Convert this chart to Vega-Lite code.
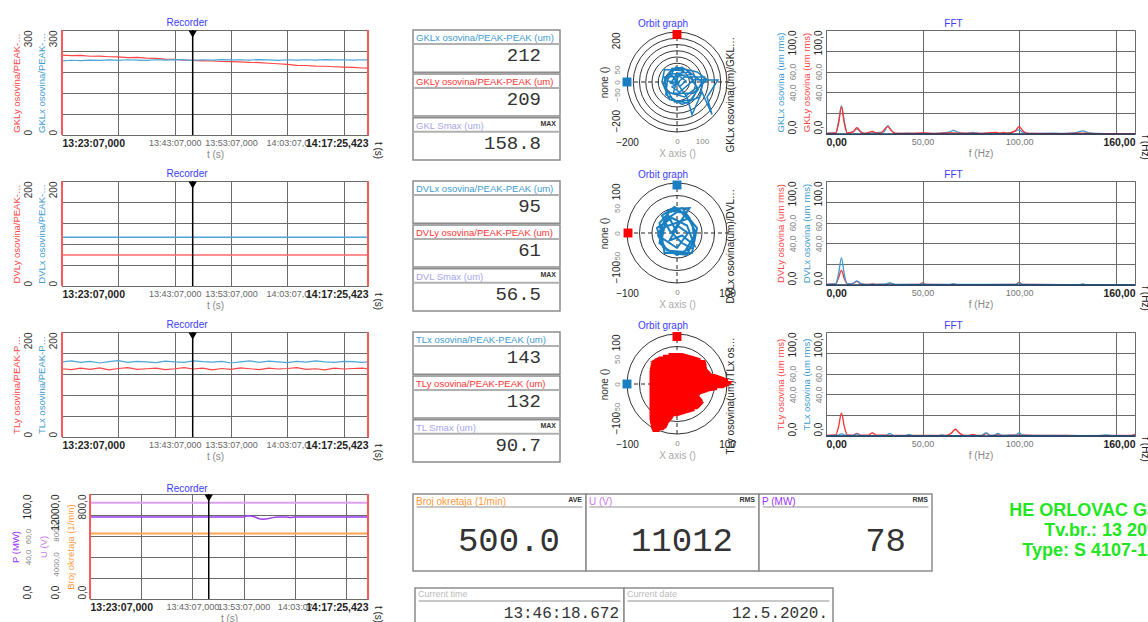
{
"$schema":"https://vega.github.io/schema/vega-lite/v6.json",
"background":"white",
"padding":{"left":9,"top":17,"right":0,"bottom":0},
"spacing":20,
"config":{
"font":"Liberation Sans",
"view":{"stroke":"#a0a0a0","strokeWidth":1},
"axis":{"domain":false,"ticks":false,"grid":false,"labelFontSize":10,"titleFontSize":10,"titleFontWeight":"normal","labelColor":"#333","titleColor":"#888","gridColor":"#6a6a6a","gridOpacity":1,"labelOverlap":false},
"title":{"color":"#3c3cff","fontSize":10,"fontWeight":"normal","offset":1,"frame":"group","anchor":"middle"},
"concat":{"spacing":0}
},
"datasets":{
"rec1":[
{"t":0,"v":212,"s":"x"},{"t":100,"v":213.5,"s":"x"},{"t":200,"v":212.5,"s":"x"},{"t":300,"v":214,"s":"x"},{"t":400,"v":213,"s":"x"},{"t":500,"v":214.5,"s":"x"},{"t":600,"v":213.5,"s":"x"},{"t":700,"v":215,"s":"x"},{"t":800,"v":214,"s":"x"},{"t":900,"v":213.5,"s":"x"},{"t":1000,"v":215,"s":"x"},{"t":1100,"v":214,"s":"x"},{"t":1200,"v":215.5,"s":"x"},{"t":1300,"v":214.5,"s":"x"},{"t":1400,"v":213.5,"s":"x"},{"t":1500,"v":215,"s":"x"},{"t":1600,"v":214,"s":"x"},{"t":1700,"v":215.5,"s":"x"},{"t":1800,"v":214.5,"s":"x"},{"t":1900,"v":215,"s":"x"},{"t":2000,"v":214,"s":"x"},{"t":2100,"v":215.5,"s":"x"},{"t":2200,"v":214.5,"s":"x"},{"t":2300,"v":213.5,"s":"x"},{"t":2400,"v":215,"s":"x"},{"t":2500,"v":214,"s":"x"},{"t":2600,"v":215,"s":"x"},{"t":2700,"v":214,"s":"x"},{"t":2800,"v":215.5,"s":"x"},{"t":2900,"v":214.5,"s":"x"},{"t":3000,"v":215,"s":"x"},{"t":3100,"v":214,"s":"x"},{"t":3200,"v":215,"s":"x"},{"t":3258.423,"v":214.5,"s":"x"},
{"t":0,"v":228,"s":"y"},{"t":100,"v":227,"s":"y"},{"t":200,"v":227.5,"s":"y"},{"t":300,"v":225,"s":"y"},{"t":400,"v":225.5,"s":"y"},{"t":500,"v":223.5,"s":"y"},{"t":600,"v":223,"s":"y"},{"t":700,"v":221,"s":"y"},{"t":800,"v":221.5,"s":"y"},{"t":900,"v":219.5,"s":"y"},{"t":1000,"v":219,"s":"y"},{"t":1100,"v":217,"s":"y"},{"t":1200,"v":216.5,"s":"y"},{"t":1300,"v":214,"s":"y"},{"t":1400,"v":213,"s":"y"},{"t":1500,"v":212,"s":"y"},{"t":1600,"v":211.5,"s":"y"},{"t":1700,"v":210,"s":"y"},{"t":1800,"v":209.5,"s":"y"},{"t":1900,"v":209,"s":"y"},{"t":2000,"v":207.5,"s":"y"},{"t":2100,"v":207,"s":"y"},{"t":2200,"v":205,"s":"y"},{"t":2300,"v":203.5,"s":"y"},{"t":2400,"v":202,"s":"y"},{"t":2500,"v":199,"s":"y"},{"t":2600,"v":198.5,"s":"y"},{"t":2700,"v":197,"s":"y"},{"t":2800,"v":196.5,"s":"y"},{"t":2900,"v":195,"s":"y"},{"t":3000,"v":194,"s":"y"},{"t":3100,"v":193,"s":"y"},{"t":3200,"v":191.5,"s":"y"},{"t":3258.423,"v":191,"s":"y"}
],
"rec2":[
{"t":0,"v":93,"s":"x"},{"t":1600,"v":93,"s":"x"},{"t":3258.423,"v":93,"s":"x"},
{"t":0,"v":59,"s":"y"},{"t":1600,"v":59,"s":"y"},{"t":3258.423,"v":59,"s":"y"}
],
"rec3":[
{"t":0,"v":143,"s":"x"},{"t":100,"v":145,"s":"x"},{"t":200,"v":142,"s":"x"},{"t":300,"v":144,"s":"x"},{"t":400,"v":141,"s":"x"},{"t":500,"v":143.5,"s":"x"},{"t":600,"v":145.5,"s":"x"},{"t":700,"v":142,"s":"x"},{"t":800,"v":144,"s":"x"},{"t":900,"v":143,"s":"x"},{"t":1000,"v":141.5,"s":"x"},{"t":1100,"v":144.5,"s":"x"},{"t":1200,"v":143,"s":"x"},{"t":1300,"v":142,"s":"x"},{"t":1400,"v":145,"s":"x"},{"t":1500,"v":143.5,"s":"x"},{"t":1600,"v":142.5,"s":"x"},{"t":1700,"v":144,"s":"x"},{"t":1800,"v":141,"s":"x"},{"t":1900,"v":143,"s":"x"},{"t":2000,"v":145,"s":"x"},{"t":2100,"v":142,"s":"x"},{"t":2200,"v":144.5,"s":"x"},{"t":2300,"v":143,"s":"x"},{"t":2400,"v":141.5,"s":"x"},{"t":2500,"v":144,"s":"x"},{"t":2600,"v":142.5,"s":"x"},{"t":2700,"v":145,"s":"x"},{"t":2800,"v":143,"s":"x"},{"t":2900,"v":142,"s":"x"},{"t":3000,"v":144,"s":"x"},{"t":3100,"v":143.5,"s":"x"},{"t":3200,"v":142,"s":"x"},{"t":3258.423,"v":143,"s":"x"},
{"t":0,"v":130,"s":"y"},{"t":100,"v":128.5,"s":"y"},{"t":200,"v":131,"s":"y"},{"t":300,"v":129,"s":"y"},{"t":400,"v":131.5,"s":"y"},{"t":500,"v":128,"s":"y"},{"t":600,"v":130.5,"s":"y"},{"t":700,"v":132,"s":"y"},{"t":800,"v":129,"s":"y"},{"t":900,"v":130,"s":"y"},{"t":1000,"v":131,"s":"y"},{"t":1100,"v":128.5,"s":"y"},{"t":1200,"v":130,"s":"y"},{"t":1300,"v":132,"s":"y"},{"t":1400,"v":129.5,"s":"y"},{"t":1500,"v":131,"s":"y"},{"t":1600,"v":128,"s":"y"},{"t":1700,"v":130.5,"s":"y"},{"t":1800,"v":129,"s":"y"},{"t":1900,"v":131.5,"s":"y"},{"t":2000,"v":130,"s":"y"},{"t":2100,"v":128.5,"s":"y"},{"t":2200,"v":131,"s":"y"},{"t":2300,"v":129.5,"s":"y"},{"t":2400,"v":130.5,"s":"y"},{"t":2500,"v":132,"s":"y"},{"t":2600,"v":129,"s":"y"},{"t":2700,"v":130,"s":"y"},{"t":2800,"v":128,"s":"y"},{"t":2900,"v":131,"s":"y"},{"t":3000,"v":129.5,"s":"y"},{"t":3100,"v":130.5,"s":"y"},{"t":3200,"v":131,"s":"y"},{"t":3258.423,"v":129.5,"s":"y"}
],
"rec4":[
{"t":0,"v":500,"s":"broj"},{"t":3258.423,"v":500,"s":"broj"},
{"t":0,"v":11012,"s":"u"},{"t":3258.423,"v":11012,"s":"u"},
{"t":0,"v":78,"s":"p"},{"t":1800,"v":78,"s":"p"},{"t":1830,"v":79,"s":"p"},{"t":1870,"v":79.2,"s":"p"},{"t":1920,"v":78.5,"s":"p"},{"t":1980,"v":76.5,"s":"p"},{"t":2030,"v":76,"s":"p"},{"t":2080,"v":76.5,"s":"p"},{"t":2140,"v":77.5,"s":"p"},{"t":2190,"v":78,"s":"p"},{"t":2300,"v":78,"s":"p"},{"t":2350,"v":77.6,"s":"p"},{"t":2400,"v":78,"s":"p"},{"t":3258.423,"v":78,"s":"p"}
],
"fft1":[
{"f":0,"v":0.5,"s":"x"},{"f":5,"v":1,"s":"x"},{"f":6.5,"v":12,"s":"x"},{"f":8,"v":27,"s":"x"},{"f":9.5,"v":12,"s":"x"},{"f":11,"v":1,"s":"x"},{"f":14,"v":2,"s":"x"},{"f":16,"v":5,"s":"x"},{"f":18,"v":2,"s":"x"},{"f":20,"v":0.5,"s":"x"},{"f":24,"v":1,"s":"x"},{"f":30,"v":2,"s":"x"},{"f":32,"v":8,"s":"x"},{"f":34,"v":3,"s":"x"},{"f":36,"v":0.5,"s":"x"},{"f":42,"v":0.8,"s":"x"},{"f":50,"v":0.5,"s":"x"},{"f":60,"v":0.8,"s":"x"},{"f":64,"v":2,"s":"x"},{"f":66,"v":3.5,"s":"x"},{"f":68,"v":2,"s":"x"},{"f":72,"v":0.5,"s":"x"},{"f":76,"v":1.5,"s":"x"},{"f":80,"v":0.5,"s":"x"},{"f":86,"v":1,"s":"x"},{"f":90,"v":0.5,"s":"x"},{"f":96,"v":1.5,"s":"x"},{"f":100,"v":4,"s":"x"},{"f":102,"v":1.5,"s":"x"},{"f":106,"v":0.5,"s":"x"},{"f":118,"v":0.8,"s":"x"},{"f":124,"v":0.5,"s":"x"},{"f":130,"v":1.5,"s":"x"},{"f":133,"v":3,"s":"x"},{"f":136,"v":1,"s":"x"},{"f":140,"v":0.5,"s":"x"},{"f":150,"v":0.3,"s":"x"},{"f":160,"v":0.3,"s":"x"},
{"f":0,"v":0.5,"s":"y"},{"f":5,"v":1,"s":"y"},{"f":6.5,"v":10,"s":"y"},{"f":8,"v":26,"s":"y"},{"f":9.5,"v":10,"s":"y"},{"f":11,"v":1,"s":"y"},{"f":14,"v":2,"s":"y"},{"f":16,"v":6,"s":"y"},{"f":18,"v":2,"s":"y"},{"f":20,"v":0.5,"s":"y"},{"f":22,"v":1.5,"s":"y"},{"f":24,"v":2.5,"s":"y"},{"f":26,"v":1,"s":"y"},{"f":28,"v":0.5,"s":"y"},{"f":32,"v":7,"s":"y"},{"f":34,"v":3,"s":"y"},{"f":36,"v":0.5,"s":"y"},{"f":44,"v":0.5,"s":"y"},{"f":50,"v":1,"s":"y"},{"f":56,"v":0.4,"s":"y"},{"f":64,"v":1,"s":"y"},{"f":80,"v":0.5,"s":"y"},{"f":88,"v":1.5,"s":"y"},{"f":90,"v":0.8,"s":"y"},{"f":92,"v":1.5,"s":"y"},{"f":94,"v":0.5,"s":"y"},{"f":98,"v":3,"s":"y"},{"f":100,"v":7,"s":"y"},{"f":102,"v":3,"s":"y"},{"f":104,"v":0.5,"s":"y"},{"f":120,"v":0.4,"s":"y"},{"f":133,"v":0.8,"s":"y"},{"f":140,"v":0.3,"s":"y"},{"f":160,"v":0.3,"s":"y"}
],
"fft2":[
{"f":0,"v":0.5,"s":"x"},{"f":5,"v":1,"s":"x"},{"f":6.5,"v":11,"s":"x"},{"f":8,"v":26,"s":"x"},{"f":9.5,"v":10,"s":"x"},{"f":11,"v":1,"s":"x"},{"f":14,"v":1.5,"s":"x"},{"f":16,"v":4,"s":"x"},{"f":18,"v":1.5,"s":"x"},{"f":20,"v":0.5,"s":"x"},{"f":30,"v":0.8,"s":"x"},{"f":33,"v":2,"s":"x"},{"f":36,"v":0.5,"s":"x"},{"f":48,"v":0.5,"s":"x"},{"f":50,"v":1.2,"s":"x"},{"f":52,"v":0.5,"s":"x"},{"f":64,"v":0.5,"s":"x"},{"f":66,"v":1,"s":"x"},{"f":68,"v":0.5,"s":"x"},{"f":98,"v":0.5,"s":"x"},{"f":100,"v":2,"s":"x"},{"f":102,"v":0.5,"s":"x"},{"f":131,"v":0.4,"s":"x"},{"f":133,"v":1,"s":"x"},{"f":135,"v":0.4,"s":"x"},{"f":160,"v":0.3,"s":"x"},
{"f":0,"v":0.5,"s":"y"},{"f":5,"v":1,"s":"y"},{"f":6.5,"v":7,"s":"y"},{"f":8,"v":14,"s":"y"},{"f":9.5,"v":6,"s":"y"},{"f":11,"v":1,"s":"y"},{"f":14,"v":1.5,"s":"y"},{"f":16,"v":3.5,"s":"y"},{"f":18,"v":1,"s":"y"},{"f":20,"v":0.5,"s":"y"},{"f":22,"v":0.5,"s":"y"},{"f":24,"v":1,"s":"y"},{"f":26,"v":0.5,"s":"y"},{"f":31,"v":0.5,"s":"y"},{"f":33,"v":1.5,"s":"y"},{"f":36,"v":0.3,"s":"y"},{"f":48,"v":0.5,"s":"y"},{"f":50,"v":2,"s":"y"},{"f":52,"v":0.5,"s":"y"},{"f":64,"v":0.4,"s":"y"},{"f":66,"v":0.8,"s":"y"},{"f":68,"v":0.4,"s":"y"},{"f":98,"v":0.5,"s":"y"},{"f":100,"v":2.5,"s":"y"},{"f":102,"v":0.5,"s":"y"},{"f":120,"v":0.4,"s":"y"},{"f":160,"v":0.3,"s":"y"}
],
"fft3":[
{"f":0,"v":0.3,"s":"x"},{"f":6,"v":0.8,"s":"x"},{"f":8,"v":2,"s":"x"},{"f":10,"v":0.8,"s":"x"},{"f":14,"v":0.4,"s":"x"},{"f":16,"v":2,"s":"x"},{"f":18,"v":0.4,"s":"x"},{"f":31,"v":0.4,"s":"x"},{"f":33,"v":2.5,"s":"x"},{"f":35,"v":0.4,"s":"x"},{"f":41,"v":0.4,"s":"x"},{"f":43,"v":1.5,"s":"x"},{"f":45,"v":0.3,"s":"x"},{"f":58,"v":0.3,"s":"x"},{"f":60,"v":1,"s":"x"},{"f":62,"v":0.3,"s":"x"},{"f":80,"v":0.4,"s":"x"},{"f":83,"v":3,"s":"x"},{"f":85,"v":0.5,"s":"x"},{"f":87,"v":0.8,"s":"x"},{"f":89,"v":2.5,"s":"x"},{"f":91,"v":0.5,"s":"x"},{"f":96,"v":0.8,"s":"x"},{"f":98,"v":0.5,"s":"x"},{"f":100,"v":3,"s":"x"},{"f":102,"v":0.5,"s":"x"},{"f":140,"v":0.4,"s":"x"},{"f":145,"v":1,"s":"x"},{"f":150,"v":0.3,"s":"x"},{"f":160,"v":0.6,"s":"x"},
{"f":0,"v":0.5,"s":"y"},{"f":5,"v":1,"s":"y"},{"f":6.5,"v":9,"s":"y"},{"f":8,"v":22,"s":"y"},{"f":9.5,"v":9,"s":"y"},{"f":11,"v":1,"s":"y"},{"f":14,"v":0.8,"s":"y"},{"f":16,"v":2.5,"s":"y"},{"f":18,"v":0.8,"s":"y"},{"f":22,"v":0.8,"s":"y"},{"f":24,"v":3,"s":"y"},{"f":26,"v":0.8,"s":"y"},{"f":32,"v":0.8,"s":"y"},{"f":34,"v":0.5,"s":"y"},{"f":42,"v":0.6,"s":"y"},{"f":50,"v":0.5,"s":"y"},{"f":60,"v":0.5,"s":"y"},{"f":63,"v":0.8,"s":"y"},{"f":65,"v":3,"s":"y"},{"f":67,"v":6.5,"s":"y"},{"f":69,"v":3,"s":"y"},{"f":71,"v":0.8,"s":"y"},{"f":74,"v":0.6,"s":"y"},{"f":76,"v":1.5,"s":"y"},{"f":78,"v":0.6,"s":"y"},{"f":81,"v":0.6,"s":"y"},{"f":83,"v":2.5,"s":"y"},{"f":85,"v":0.6,"s":"y"},{"f":88,"v":0.5,"s":"y"},{"f":89,"v":1.5,"s":"y"},{"f":91,"v":0.5,"s":"y"},{"f":100,"v":1,"s":"y"},{"f":110,"v":0.5,"s":"y"},{"f":120,"v":0.6,"s":"y"},{"f":130,"v":0.4,"s":"y"},{"f":158,"v":0.5,"s":"y"},{"f":160,"v":1.5,"s":"y"}
],
"orb1":[
{"i":0,"x":0,"y":0},{"i":1,"x":-30,"y":40},{"i":2,"x":20,"y":60},{"i":3,"x":60,"y":30},{"i":4,"x":-50,"y":20},{"i":5,"x":-40,"y":-40},{"i":6,"x":30,"y":-60},{"i":7,"x":80,"y":-20},{"i":8,"x":40,"y":50},{"i":9,"x":-20,"y":55},{"i":10,"x":-55,"y":-10},{"i":11,"x":-10,"y":-80},{"i":12,"x":60,"y":-70},{"i":13,"x":100,"y":0},{"i":14,"x":50,"y":40},{"i":15,"x":-35,"y":30},{"i":16,"x":-45,"y":-50},{"i":17,"x":20,"y":-90},{"i":18,"x":90,"y":-60},{"i":19,"x":110,"y":20},{"i":20,"x":30,"y":20},{"i":21,"x":-20,"y":-20},{"i":22,"x":10,"y":-40},{"i":23,"x":70,"y":10},{"i":24,"x":164,"y":8},{"i":25,"x":120,"y":-60},{"i":26,"x":140,"y":-130},{"i":27,"x":100,"y":-40},{"i":28,"x":60,"y":-130},{"i":29,"x":40,"y":-60},{"i":30,"x":-10,"y":10},{"i":31,"x":25,"y":45},{"i":32,"x":-50,"y":50},{"i":33,"x":-60,"y":0},{"i":34,"x":-30,"y":-70},{"i":35,"x":45,"y":-85},{"i":36,"x":85,"y":-30},{"i":37,"x":55,"y":15},{"i":38,"x":0,"y":35},{"i":39,"x":-25,"y":-5},{"i":40,"x":15,"y":-15},{"i":41,"x":35,"y":5},{"i":42,"x":5,"y":25},{"i":43,"x":-15,"y":-45},{"i":44,"x":65,"y":-45},{"i":45,"x":120,"y":10},{"i":46,"x":80,"y":40},{"i":47,"x":-5,"y":60},{"i":48,"x":-40,"y":5},{"i":49,"x":10,"y":-5}
],
"orb2":[
{"i":0,"x":0,"y":0},{"i":1,"x":-20,"y":40},{"i":2,"x":10,"y":50},{"i":3,"x":25,"y":30},{"i":4,"x":-30,"y":10},{"i":5,"x":-35,"y":-20},{"i":6,"x":-10,"y":-40},{"i":7,"x":20,"y":-44},{"i":8,"x":35,"y":-10},{"i":9,"x":30,"y":20},{"i":10,"x":5,"y":45},{"i":11,"x":-25,"y":25},{"i":12,"x":-38,"y":-5},{"i":13,"x":-20,"y":-35},{"i":14,"x":15,"y":-38},{"i":15,"x":38,"y":0},{"i":16,"x":20,"y":35},{"i":17,"x":-5,"y":52},{"i":18,"x":-30,"y":35},{"i":19,"x":-15,"y":5},{"i":20,"x":10,"y":-20},{"i":21,"x":28,"y":-30},{"i":22,"x":0,"y":-44},{"i":23,"x":-28,"y":-28},{"i":24,"x":-40,"y":10},{"i":25,"x":-10,"y":30},{"i":26,"x":20,"y":15},{"i":27,"x":35,"y":-25},{"i":28,"x":10,"y":-5},{"i":29,"x":-15,"y":-15},{"i":30,"x":5,"y":20},{"i":31,"x":25,"y":50},{"i":32,"x":-10,"y":48},{"i":33,"x":-35,"y":20},{"i":34,"x":-25,"y":-40},{"i":35,"x":30,"y":-40},{"i":36,"x":40,"y":10},{"i":37,"x":15,"y":40},{"i":38,"x":-18,"y":45},{"i":39,"x":-30,"y":-10},{"i":40,"x":0,"y":-30},{"i":41,"x":22,"y":0},{"i":42,"x":0,"y":15},{"i":43,"x":-12,"y":-2}
],
"orb3":[
{"i":0,"x":-17,"y":60},{"i":1,"x":10,"y":60},{"i":2,"x":35,"y":53},{"i":3,"x":-35,"y":53},{"i":4,"x":-47,"y":46},{"i":5,"x":55,"y":46},{"i":6,"x":57,"y":39},{"i":7,"x":-50,"y":39},{"i":8,"x":-52,"y":32},{"i":9,"x":58,"y":32},{"i":10,"x":60,"y":25},{"i":11,"x":-53,"y":25},{"i":12,"x":-53,"y":18},{"i":13,"x":75,"y":18},{"i":14,"x":95,"y":11},{"i":15,"x":-53,"y":11},{"i":16,"x":-53,"y":4},{"i":17,"x":107,"y":4},{"i":18,"x":100,"y":-3},{"i":19,"x":-53,"y":-3},{"i":20,"x":-53,"y":-10},{"i":21,"x":80,"y":-10},{"i":22,"x":40,"y":-17},{"i":23,"x":-53,"y":-17},{"i":24,"x":-53,"y":-24},{"i":25,"x":42,"y":-24},{"i":26,"x":48,"y":-31},{"i":27,"x":-53,"y":-31},{"i":28,"x":-53,"y":-38},{"i":29,"x":50,"y":-38},{"i":30,"x":44,"y":-45},{"i":31,"x":-53,"y":-45},{"i":32,"x":-53,"y":-52},{"i":33,"x":35,"y":-52},{"i":34,"x":10,"y":-59},{"i":35,"x":-53,"y":-59},{"i":36,"x":-53,"y":-66},{"i":37,"x":-10,"y":-66},{"i":38,"x":-15,"y":-73},{"i":39,"x":-52,"y":-73},{"i":40,"x":-51,"y":-80},{"i":41,"x":-20,"y":-80},{"i":42,"x":-23,"y":-87},{"i":43,"x":-50,"y":-87},{"i":44,"x":-47,"y":-94},{"i":45,"x":-35,"y":-94},
{"i":46,"x":-48,"y":-90.5},{"i":47,"x":-28,"y":-90.5},{"i":48,"x":-22,"y":-83.5},{"i":49,"x":-50,"y":-83.5},{"i":50,"x":-52,"y":-76.5},{"i":51,"x":-18,"y":-76.5},{"i":52,"x":-12,"y":-69.5},{"i":53,"x":-53,"y":-69.5},{"i":54,"x":-53,"y":-62.5},{"i":55,"x":0,"y":-62.5},{"i":56,"x":22,"y":-55.5},{"i":57,"x":-53,"y":-55.5},{"i":58,"x":-53,"y":-48.5},{"i":59,"x":40,"y":-48.5},{"i":60,"x":47,"y":-41.5},{"i":61,"x":-53,"y":-41.5},{"i":62,"x":-53,"y":-34.5},{"i":63,"x":49,"y":-34.5},{"i":64,"x":45,"y":-27.5},{"i":65,"x":-53,"y":-27.5},{"i":66,"x":-53,"y":-20.5},{"i":67,"x":41,"y":-20.5},{"i":68,"x":62,"y":-13.5},{"i":69,"x":-53,"y":-13.5},{"i":70,"x":-53,"y":-6.5},{"i":71,"x":92,"y":-6.5},{"i":72,"x":104,"y":0.5},{"i":73,"x":-53,"y":0.5},{"i":74,"x":-53,"y":7.5},{"i":75,"x":102,"y":7.5},{"i":76,"x":85,"y":14.5},{"i":77,"x":-53,"y":14.5},{"i":78,"x":-53,"y":21.5},{"i":79,"x":66,"y":21.5},{"i":80,"x":59,"y":28.5},{"i":81,"x":-52,"y":28.5},{"i":82,"x":-51,"y":35.5},{"i":83,"x":57,"y":35.5},{"i":84,"x":56,"y":42.5},{"i":85,"x":-49,"y":42.5},{"i":86,"x":-42,"y":49.5},{"i":87,"x":47,"y":49.5},{"i":88,"x":22,"y":56.5},{"i":89,"x":-28,"y":56.5}
]
},
"vconcat":[
{
"concat":[
{"width":306,"height":105,"title":{"text":"Recorder","dx":-28},"data":{"name":"rec1"},
"layer":[
{"transform":[{"filter":"datum.s=='y'"}],"mark":{"type":"line","color":"#ff4545","strokeWidth":1.2},
"encoding":{"x":{"field":"t","type":"quantitative","scale":{"domain":[0,3258.423],"nice":false,"zero":false},"axis":{"title":"t (s)","values":[0,600,1200,1800,2400,3000,3258.423],"grid":true,"labelFlush":true,"labelPadding":3,"titlePadding":1,"labelFontSize":{"condition":{"test":"datum.value==0||datum.value>3200","value":10.5},"value":9},"labelFontWeight":{"condition":{"test":"datum.value==0||datum.value>3200","value":"bold"},"value":"normal"},"labelColor":{"condition":{"test":"datum.value==0||datum.value>3200","value":"#222"},"value":"#666"},"labelExpr":"datum.value==0?'13:23:07,000':datum.value==1200?'13:43:07,000':datum.value==1800?'13:53:07,000':datum.value==2400?'14:03:07,0':datum.value>3200?'14:17:25,423':''"}},
"y":{"field":"v","type":"quantitative","scale":{"domain":[0,300],"nice":false},"axis":{"orient":"left","title":"GKLy osovina/PEAK-PEAK (um)","titleColor":"#ff4545","titleFontSize":9.5,"titleLimit":104,"values":[0,60,120,180,240,300],"grid":false,"offset":25,"labelExpr":"datum.value==0||datum.value==300?datum.label:''","labelAngle":-90,"labelBaseline":"bottom","labelAlign":{"condition":{"test":"datum.value==0","value":"left"},"value":"right"},"labelPadding":4,"titlePadding":2}}}},
{"transform":[{"filter":"datum.s=='x'"}],"mark":{"type":"line","color":"#4ca6d8","strokeWidth":1.2},
"encoding":{"x":{"field":"t","type":"quantitative"},"y":{"field":"v","type":"quantitative","axis":{"orient":"left","title":"GKLx osovina/PEAK-PEAK (um)","titleColor":"#3d9bd1","titleFontSize":9.5,"titleLimit":104,"values":[0,60,120,180,240,300],"grid":true,"labelExpr":"datum.value==0||datum.value==300?datum.label:''","labelAngle":-90,"labelBaseline":"bottom","labelAlign":{"condition":{"test":"datum.value==0","value":"left"},"value":"right"},"labelPadding":4,"titlePadding":2}}}},
{"data":{"values":[{"t":0},{"t":3258.423}]},"mark":{"type":"rule","color":"#ff5a5a","strokeWidth":2},"encoding":{"x":{"field":"t","type":"quantitative"}}},
{"data":{"values":[{"t":1391.672}]},"mark":{"type":"rule","color":"#000","strokeWidth":1.5},"encoding":{"x":{"field":"t","type":"quantitative"}}},
{"data":{"values":[{"t":1391.672}]},"mark":{"type":"point","shape":"triangle-down","filled":true,"color":"#000","size":70,"opacity":1,"yOffset":4},"encoding":{"x":{"field":"t","type":"quantitative"},"y":{"datum":300,"type":"quantitative","axis":{"orient":"right","title":"t (s)","labels":false,"titleAngle":90,"titleY":120,"titleColor":"#222","titlePadding":4}}}}
],
"resolve":{"axis":{"y":"independent"}}},
{"width":45,"height":1,"view":{"stroke":null},"data":{"values":[]},"mark":"point"},
{"width":147,"height":130,"view":{"stroke":null},
"data":{"values":[{"k":"a","label":"GKLx osovina/PEAK-PEAK (um)","value":"212","tag":""},{"k":"b","label":"GKLy osovina/PEAK-PEAK (um)","value":"209","tag":""},{"k":"c","label":"GKL Smax (um)","value":"158.8","tag":"MAX"}]},
"layer":[
{"mark":{"type":"rect","fill":"#fff","stroke":"#8c8c8c","strokeWidth":1.5},"encoding":{"y":{"field":"k","type":"nominal","scale":{"type":"band","paddingInner":0.04,"paddingOuter":0},"axis":null}}},
{"mark":{"type":"rule","color":"#b0b0b0","strokeWidth":2,"yOffset":14},"encoding":{"y":{"field":"k","type":"nominal","bandPosition":0,"scale":{"type":"band"},"axis":null}}},
{"mark":{"type":"text","align":"left","baseline":"top","dx":3,"yOffset":3,"fontSize":9.5,"limit":141},"encoding":{"x":{"value":0},"y":{"field":"k","type":"nominal","bandPosition":0,"scale":{"type":"band"},"axis":null},"text":{"field":"label"},"color":{"field":"k","type":"nominal","scale":{"domain":["a","b","c"],"range":["#3d9bd1","#ff3333","#a6a6ee"]},"legend":null}}},
{"mark":{"type":"text","align":"right","baseline":"top","dx":-4,"yOffset":2,"fontSize":7,"fontWeight":"bold","color":"#333"},"encoding":{"x":{"value":"width"},"y":{"field":"k","type":"nominal","bandPosition":0,"scale":{"type":"band"},"axis":null},"text":{"field":"tag"}}},
{"mark":{"type":"text","align":"right","baseline":"middle","dx":-19,"font":"Liberation Mono","color":"#333"},"encoding":{"x":{"value":"width"},"y":{"field":"k","type":"nominal","bandPosition":0.6,"scale":{"type":"band"},"axis":null},"text":{"field":"value"},"size":{"field":"k","type":"ordinal","scale":{"domain":["a","b","c"],"range":[19,19,24]},"legend":null}}}
]},
{"width":65,"height":1,"view":{"stroke":null},"data":{"values":[]},"mark":"point"},
{"width":104,"height":104,"view":{"stroke":null},"title":{"text":"Orbit graph","dx":-14},
"layer":[
{"data":{"values":[{"r":50},{"r":75},{"r":100},{"r":125},{"r":150},{"r":175},{"r":200}]},"mark":{"type":"point","shape":"circle","filled":false,"color":"#333","strokeWidth":1,"opacity":1},"encoding":{"x":{"datum":0,"type":"quantitative","scale":{"domain":[-208,208],"nice":false,"zero":false},"axis":{"title":"X axis ()","titleColor":"#aaa","values":[-200,-50,0,50,100,200],"labelOverlap":false,"labelPadding":3,"titlePadding":1,"labelFontSize":{"condition":{"test":"abs(datum.value)==200","value":10},"value":8},"labelColor":{"condition":{"test":"abs(datum.value)==200","value":"#222"},"value":"#888"}}},"y":{"datum":0,"type":"quantitative","scale":{"domain":[-208,208],"nice":false,"zero":false},"axis":null},"size":{"field":"r","type":"quantitative","scale":{"type":"pow","exponent":2,"domain":[0,208],"range":[0,10816]},"legend":null}}},
{"data":{"values":[{}]},"mark":{"type":"rule","color":"#222","strokeDash":[4,3]},"encoding":{"x":{"datum":0,"type":"quantitative","axis":{"labelOverlap":false}}}},
{"data":{"values":[{}]},"mark":{"type":"rule","color":"#222","strokeDash":[4,3]},"encoding":{"y":{"datum":0,"type":"quantitative","axis":null}}},
{"data":{"name":"orb1"},"mark":{"type":"line","color":"#1a7fc0","strokeWidth":1.5},"encoding":{"x":{"field":"x","type":"quantitative","axis":{"labelOverlap":false}},"y":{"field":"y","type":"quantitative","axis":{"orient":"left","title":"none ()","titleColor":"#333","values":[-200,-50,0,50,200],"labelOverlap":false,"labelAngle":-90,"labelBaseline":"bottom","labelAlign":{"condition":[{"test":"datum.value==-200","value":"left"},{"test":"datum.value==200","value":"right"}],"value":"center"},"labelFontSize":{"condition":{"test":"abs(datum.value)==200","value":10},"value":8},"labelColor":{"condition":{"test":"abs(datum.value)==200","value":"#222"},"value":"#888"},"labelPadding":4,"titlePadding":2}},"order":{"field":"i","type":"quantitative"}}},
{"data":{"values":[{}]},"mark":{"type":"square","color":"#1a7fc0","size":80,"opacity":1},"encoding":{"x":{"datum":-200,"type":"quantitative","axis":{"labelOverlap":false}},"y":{"datum":0,"type":"quantitative","axis":null}}},
{"data":{"values":[{}]},"mark":{"type":"square","color":"#ff0000","size":80,"opacity":1},"encoding":{"x":{"datum":0,"type":"quantitative","axis":{"labelOverlap":false}},"y":{"datum":190,"type":"quantitative","axis":{"orient":"right","title":"GKLx osovina(um)/GKLy osovina(um)","labels":false,"titleAngle":270,"titleAlign":"left","titleY":122,"titleLimit":118,"titleColor":"#222","titlePadding":6}}}}
],
"resolve":{"axis":{"y":"independent"}}},
{"width":97,"height":1,"view":{"stroke":null},"data":{"values":[]},"mark":"point"},
{"width":309,"height":104,"title":{"text":"FFT","dx":-27},"data":{"name":"fft1"},
"layer":[
{"transform":[{"filter":"datum.s=='x'"}],"mark":{"type":"line","color":"#3d9bd1","strokeWidth":1.3,"interpolate":"monotone"},
"encoding":{"x":{"field":"f","type":"quantitative","scale":{"domain":[0,160],"nice":false,"zero":false},"axis":{"title":"f (Hz)","values":[0,50,100,150,160],"grid":true,"labelFlush":true,"labelPadding":3,"titlePadding":1,"labelExpr":"datum.value==150?'':replace(format(datum.value,'.2f'),'.',',')","labelFontSize":{"condition":{"test":"datum.value==0||datum.value==160","value":10.5},"value":9},"labelFontWeight":{"condition":{"test":"datum.value==0||datum.value==160","value":"bold"},"value":"normal"},"labelColor":{"condition":{"test":"datum.value==0||datum.value==160","value":"#222"},"value":"#777"}}},
"y":{"field":"v","type":"quantitative","scale":{"domain":[0,100],"nice":false},"axis":{"orient":"left","title":"GKLx osovina (um rms)","titleColor":"#3d9bd1","titleFontSize":9.5,"offset":26,"values":[0,20,40,60,80,100],"grid":false,"labelExpr":"datum.value==20||datum.value==80?'':replace(format(datum.value,'.1f'),'.',',')","labelAngle":-90,"labelBaseline":"bottom","labelAlign":{"condition":[{"test":"datum.value==0","value":"left"},{"test":"datum.value==100","value":"right"}],"value":"center"},"labelFontSize":{"condition":{"test":"datum.value==0||datum.value==100","value":10},"value":8.5},"labelColor":{"condition":{"test":"datum.value==0||datum.value==100","value":"#222"},"value":"#888"},"labelPadding":3,"titlePadding":2}}}},
{"transform":[{"filter":"datum.s=='y'"}],"mark":{"type":"line","color":"#ff3030","strokeWidth":1.3,"interpolate":"monotone"},
"encoding":{"x":{"field":"f","type":"quantitative"},"y":{"field":"v","type":"quantitative","axis":{"orient":"left","title":"GKLy osovina (um rms)","titleColor":"#ff4545","titleFontSize":9.5,"values":[0,20,40,60,80,100],"grid":true,"labelExpr":"datum.value==20||datum.value==80?'':replace(format(datum.value,'.1f'),'.',',')","labelAngle":-90,"labelBaseline":"bottom","labelAlign":{"condition":[{"test":"datum.value==0","value":"left"},{"test":"datum.value==100","value":"right"}],"value":"center"},"labelFontSize":{"condition":{"test":"datum.value==0||datum.value==100","value":10},"value":8.5},"labelColor":{"condition":{"test":"datum.value==0||datum.value==100","value":"#222"},"value":"#888"},"labelPadding":3,"titlePadding":2}}}},
{"data":{"values":[{}]},"mark":{"type":"rule","color":"#1c3a5e","strokeWidth":1.5},"encoding":{"y":{"datum":0,"type":"quantitative","axis":{"orient":"right","title":"f (Hz)","labels":false,"titleAngle":90,"titleY":117,"titleColor":"#222","titlePadding":4}}}}
],
"resolve":{"axis":{"y":"independent"}}},

{"width":306,"height":105,"title":{"text":"Recorder","dx":-28},"data":{"name":"rec2"},
"layer":[
{"transform":[{"filter":"datum.s=='y'"}],"mark":{"type":"line","color":"#ff6a6a","strokeWidth":1.6},
"encoding":{"x":{"field":"t","type":"quantitative","scale":{"domain":[0,3258.423],"nice":false,"zero":false},"axis":{"title":"t (s)","values":[0,600,1200,1800,2400,3000,3258.423],"grid":true,"labelFlush":true,"labelPadding":3,"titlePadding":1,"labelFontSize":{"condition":{"test":"datum.value==0||datum.value>3200","value":10.5},"value":9},"labelFontWeight":{"condition":{"test":"datum.value==0||datum.value>3200","value":"bold"},"value":"normal"},"labelColor":{"condition":{"test":"datum.value==0||datum.value>3200","value":"#222"},"value":"#666"},"labelExpr":"datum.value==0?'13:23:07,000':datum.value==1200?'13:43:07,000':datum.value==1800?'13:53:07,000':datum.value==2400?'14:03:07,0':datum.value>3200?'14:17:25,423':''"}},
"y":{"field":"v","type":"quantitative","scale":{"domain":[0,200],"nice":false},"axis":{"orient":"left","title":"DVLy osovina/PEAK-PEAK (um)","titleColor":"#ff4545","titleFontSize":9.5,"titleLimit":104,"values":[0,40,80,120,160,200],"grid":false,"offset":25,"labelExpr":"datum.value==0||datum.value==200?datum.label:''","labelAngle":-90,"labelBaseline":"bottom","labelAlign":{"condition":{"test":"datum.value==0","value":"left"},"value":"right"},"labelPadding":4,"titlePadding":2}}}},
{"transform":[{"filter":"datum.s=='x'"}],"mark":{"type":"line","color":"#4ca6d8","strokeWidth":1.6},
"encoding":{"x":{"field":"t","type":"quantitative"},"y":{"field":"v","type":"quantitative","axis":{"orient":"left","title":"DVLx osovina/PEAK-PEAK (um)","titleColor":"#3d9bd1","titleFontSize":9.5,"titleLimit":104,"values":[0,40,80,120,160,200],"grid":true,"labelExpr":"datum.value==0||datum.value==200?datum.label:''","labelAngle":-90,"labelBaseline":"bottom","labelAlign":{"condition":{"test":"datum.value==0","value":"left"},"value":"right"},"labelPadding":4,"titlePadding":2}}}},
{"data":{"values":[{"t":0},{"t":3258.423}]},"mark":{"type":"rule","color":"#ff5a5a","strokeWidth":2},"encoding":{"x":{"field":"t","type":"quantitative"}}},
{"data":{"values":[{"t":1391.672}]},"mark":{"type":"rule","color":"#000","strokeWidth":1.5},"encoding":{"x":{"field":"t","type":"quantitative"}}},
{"data":{"values":[{"t":1391.672}]},"mark":{"type":"point","shape":"triangle-down","filled":true,"color":"#000","size":70,"opacity":1,"yOffset":4},"encoding":{"x":{"field":"t","type":"quantitative"},"y":{"datum":200,"type":"quantitative","axis":{"orient":"right","title":"t (s)","labels":false,"titleAngle":90,"titleY":120,"titleColor":"#222","titlePadding":4}}}}
],
"resolve":{"axis":{"y":"independent"}}},
{"width":45,"height":1,"view":{"stroke":null},"data":{"values":[]},"mark":"point"},
{"width":147,"height":130,"view":{"stroke":null},
"data":{"values":[{"k":"a","label":"DVLx osovina/PEAK-PEAK (um)","value":"95","tag":""},{"k":"b","label":"DVLy osovina/PEAK-PEAK (um)","value":"61","tag":""},{"k":"c","label":"DVL Smax (um)","value":"56.5","tag":"MAX"}]},
"layer":[
{"mark":{"type":"rect","fill":"#fff","stroke":"#8c8c8c","strokeWidth":1.5},"encoding":{"y":{"field":"k","type":"nominal","scale":{"type":"band","paddingInner":0.04,"paddingOuter":0},"axis":null}}},
{"mark":{"type":"rule","color":"#b0b0b0","strokeWidth":2,"yOffset":14},"encoding":{"y":{"field":"k","type":"nominal","bandPosition":0,"scale":{"type":"band"},"axis":null}}},
{"mark":{"type":"text","align":"left","baseline":"top","dx":3,"yOffset":3,"fontSize":9.5,"limit":141},"encoding":{"x":{"value":0},"y":{"field":"k","type":"nominal","bandPosition":0,"scale":{"type":"band"},"axis":null},"text":{"field":"label"},"color":{"field":"k","type":"nominal","scale":{"domain":["a","b","c"],"range":["#3d9bd1","#ff3333","#aad9aa"]},"legend":null}}},
{"mark":{"type":"text","align":"right","baseline":"top","dx":-4,"yOffset":2,"fontSize":7,"fontWeight":"bold","color":"#333"},"encoding":{"x":{"value":"width"},"y":{"field":"k","type":"nominal","bandPosition":0,"scale":{"type":"band"},"axis":null},"text":{"field":"tag"}}},
{"mark":{"type":"text","align":"right","baseline":"middle","dx":-19,"font":"Liberation Mono","color":"#333"},"encoding":{"x":{"value":"width"},"y":{"field":"k","type":"nominal","bandPosition":0.6,"scale":{"type":"band"},"axis":null},"text":{"field":"value"},"size":{"field":"k","type":"ordinal","scale":{"domain":["a","b","c"],"range":[19,19,24]},"legend":null}}}
]},
{"width":65,"height":1,"view":{"stroke":null},"data":{"values":[]},"mark":"point"},
{"width":104,"height":104,"view":{"stroke":null},"title":{"text":"Orbit graph","dx":-14},
"layer":[
{"data":{"values":[{"r":50},{"r":75},{"r":100}]},"mark":{"type":"point","shape":"circle","filled":false,"color":"#333","strokeWidth":1,"opacity":1},"encoding":{"x":{"datum":0,"type":"quantitative","scale":{"domain":[-104,104],"nice":false,"zero":false},"axis":{"title":"X axis ()","titleColor":"#aaa","values":[-100,-50,0,50,100],"labelOverlap":false,"labelPadding":3,"titlePadding":1,"labelFontSize":{"condition":{"test":"abs(datum.value)==100","value":10},"value":8},"labelColor":{"condition":{"test":"abs(datum.value)==100","value":"#222"},"value":"#888"}}},"y":{"datum":0,"type":"quantitative","scale":{"domain":[-104,104],"nice":false,"zero":false},"axis":null},"size":{"field":"r","type":"quantitative","scale":{"type":"pow","exponent":2,"domain":[0,104],"range":[0,10816]},"legend":null}}},
{"data":{"values":[{}]},"mark":{"type":"rule","color":"#222","strokeDash":[4,3]},"encoding":{"x":{"datum":0,"type":"quantitative","axis":{"labelOverlap":false}}}},
{"data":{"values":[{}]},"mark":{"type":"rule","color":"#222","strokeDash":[4,3]},"encoding":{"y":{"datum":0,"type":"quantitative","axis":null}}},
{"data":{"name":"orb2"},"mark":{"type":"line","color":"#1a7fc0","strokeWidth":2},"encoding":{"x":{"field":"x","type":"quantitative","axis":{"labelOverlap":false}},"y":{"field":"y","type":"quantitative","axis":{"orient":"left","title":"none ()","titleColor":"#333","values":[-100,-50,0,50,100],"labelOverlap":false,"labelAngle":-90,"labelBaseline":"bottom","labelAlign":{"condition":[{"test":"datum.value==-100","value":"left"},{"test":"datum.value==100","value":"right"}],"value":"center"},"labelFontSize":{"condition":{"test":"abs(datum.value)==100","value":10},"value":8},"labelColor":{"condition":{"test":"abs(datum.value)==100","value":"#222"},"value":"#888"},"labelPadding":4,"titlePadding":2}},"order":{"field":"i","type":"quantitative"}}},
{"data":{"values":[{}]},"mark":{"type":"square","color":"#ff0000","size":80,"opacity":1},"encoding":{"x":{"datum":-98,"type":"quantitative","axis":{"labelOverlap":false}},"y":{"datum":0,"type":"quantitative","axis":null}}},
{"data":{"values":[{}]},"mark":{"type":"square","color":"#1a7fc0","size":80,"opacity":1},"encoding":{"x":{"datum":0,"type":"quantitative","axis":{"labelOverlap":false}},"y":{"datum":96,"type":"quantitative","axis":{"orient":"right","title":"DVLx osovina(um)/DVLy osovina(um)","labels":false,"titleAngle":270,"titleAlign":"left","titleY":122,"titleLimit":118,"titleColor":"#222","titlePadding":6}}}}
],
"resolve":{"axis":{"y":"independent"}}},
{"width":97,"height":1,"view":{"stroke":null},"data":{"values":[]},"mark":"point"},
{"width":309,"height":104,"title":{"text":"FFT","dx":-27},"data":{"name":"fft2"},
"layer":[
{"transform":[{"filter":"datum.s=='y'"}],"mark":{"type":"line","color":"#ff3030","strokeWidth":1.3,"interpolate":"monotone"},
"encoding":{"x":{"field":"f","type":"quantitative","scale":{"domain":[0,160],"nice":false,"zero":false},"axis":{"title":"f (Hz)","values":[0,50,100,150,160],"grid":true,"labelFlush":true,"labelPadding":3,"titlePadding":1,"labelExpr":"datum.value==150?'':replace(format(datum.value,'.2f'),'.',',')","labelFontSize":{"condition":{"test":"datum.value==0||datum.value==160","value":10.5},"value":9},"labelFontWeight":{"condition":{"test":"datum.value==0||datum.value==160","value":"bold"},"value":"normal"},"labelColor":{"condition":{"test":"datum.value==0||datum.value==160","value":"#222"},"value":"#777"}}},
"y":{"field":"v","type":"quantitative","scale":{"domain":[0,100],"nice":false},"axis":{"orient":"left","title":"DVLy osovina (um rms)","titleColor":"#ff4545","titleFontSize":9.5,"offset":26,"values":[0,20,40,60,80,100],"grid":false,"labelExpr":"datum.value==20||datum.value==80?'':replace(format(datum.value,'.1f'),'.',',')","labelAngle":-90,"labelBaseline":"bottom","labelAlign":{"condition":[{"test":"datum.value==0","value":"left"},{"test":"datum.value==100","value":"right"}],"value":"center"},"labelFontSize":{"condition":{"test":"datum.value==0||datum.value==100","value":10},"value":8.5},"labelColor":{"condition":{"test":"datum.value==0||datum.value==100","value":"#222"},"value":"#888"},"labelPadding":3,"titlePadding":2}}}},
{"transform":[{"filter":"datum.s=='x'"}],"mark":{"type":"line","color":"#3d9bd1","strokeWidth":1.3,"interpolate":"monotone"},
"encoding":{"x":{"field":"f","type":"quantitative"},"y":{"field":"v","type":"quantitative","axis":{"orient":"left","title":"DVLx osovina (um rms)","titleColor":"#3d9bd1","titleFontSize":9.5,"values":[0,20,40,60,80,100],"grid":true,"labelExpr":"datum.value==20||datum.value==80?'':replace(format(datum.value,'.1f'),'.',',')","labelAngle":-90,"labelBaseline":"bottom","labelAlign":{"condition":[{"test":"datum.value==0","value":"left"},{"test":"datum.value==100","value":"right"}],"value":"center"},"labelFontSize":{"condition":{"test":"datum.value==0||datum.value==100","value":10},"value":8.5},"labelColor":{"condition":{"test":"datum.value==0||datum.value==100","value":"#222"},"value":"#888"},"labelPadding":3,"titlePadding":2}}}},
{"data":{"values":[{}]},"mark":{"type":"rule","color":"#1c3a5e","strokeWidth":1.5},"encoding":{"y":{"datum":0,"type":"quantitative","axis":{"orient":"right","title":"f (Hz)","labels":false,"titleAngle":90,"titleY":117,"titleColor":"#222","titlePadding":4}}}}
],
"resolve":{"axis":{"y":"independent"}}},

{"width":306,"height":105,"title":{"text":"Recorder","dx":-28},"data":{"name":"rec3"},
"layer":[
{"transform":[{"filter":"datum.s=='y'"}],"mark":{"type":"line","color":"#ff4545","strokeWidth":1.2},
"encoding":{"x":{"field":"t","type":"quantitative","scale":{"domain":[0,3258.423],"nice":false,"zero":false},"axis":{"title":"t (s)","values":[0,600,1200,1800,2400,3000,3258.423],"grid":true,"labelFlush":true,"labelPadding":3,"titlePadding":1,"labelFontSize":{"condition":{"test":"datum.value==0||datum.value>3200","value":10.5},"value":9},"labelFontWeight":{"condition":{"test":"datum.value==0||datum.value>3200","value":"bold"},"value":"normal"},"labelColor":{"condition":{"test":"datum.value==0||datum.value>3200","value":"#222"},"value":"#666"},"labelExpr":"datum.value==0?'13:23:07,000':datum.value==1200?'13:43:07,000':datum.value==1800?'13:53:07,000':datum.value==2400?'14:03:07,0':datum.value>3200?'14:17:25,423':''"}},
"y":{"field":"v","type":"quantitative","scale":{"domain":[0,200],"nice":false},"axis":{"orient":"left","title":"TLy osovina/PEAK-PEAK (um)","titleColor":"#ff4545","titleFontSize":9.5,"titleLimit":104,"values":[0,40,80,120,160,200],"grid":false,"offset":25,"labelExpr":"datum.value==0||datum.value==200?datum.label:''","labelAngle":-90,"labelBaseline":"bottom","labelAlign":{"condition":{"test":"datum.value==0","value":"left"},"value":"right"},"labelPadding":4,"titlePadding":2}}}},
{"transform":[{"filter":"datum.s=='x'"}],"mark":{"type":"line","color":"#4ca6d8","strokeWidth":1.2},
"encoding":{"x":{"field":"t","type":"quantitative"},"y":{"field":"v","type":"quantitative","axis":{"orient":"left","title":"TLx osovina/PEAK-PEAK (um)","titleColor":"#3d9bd1","titleFontSize":9.5,"titleLimit":104,"values":[0,40,80,120,160,200],"grid":true,"labelExpr":"datum.value==0||datum.value==200?datum.label:''","labelAngle":-90,"labelBaseline":"bottom","labelAlign":{"condition":{"test":"datum.value==0","value":"left"},"value":"right"},"labelPadding":4,"titlePadding":2}}}},
{"data":{"values":[{"t":0},{"t":3258.423}]},"mark":{"type":"rule","color":"#ff5a5a","strokeWidth":2},"encoding":{"x":{"field":"t","type":"quantitative"}}},
{"data":{"values":[{"t":1391.672}]},"mark":{"type":"rule","color":"#000","strokeWidth":1.5},"encoding":{"x":{"field":"t","type":"quantitative"}}},
{"data":{"values":[{"t":1391.672}]},"mark":{"type":"point","shape":"triangle-down","filled":true,"color":"#000","size":70,"opacity":1,"yOffset":4},"encoding":{"x":{"field":"t","type":"quantitative"},"y":{"datum":200,"type":"quantitative","axis":{"orient":"right","title":"t (s)","labels":false,"titleAngle":90,"titleY":120,"titleColor":"#222","titlePadding":4}}}}
],
"resolve":{"axis":{"y":"independent"}}},
{"width":45,"height":1,"view":{"stroke":null},"data":{"values":[]},"mark":"point"},
{"width":147,"height":130,"view":{"stroke":null},
"data":{"values":[{"k":"a","label":"TLx osovina/PEAK-PEAK (um)","value":"143","tag":""},{"k":"b","label":"TLy osovina/PEAK-PEAK (um)","value":"132","tag":""},{"k":"c","label":"TL Smax (um)","value":"90.7","tag":"MAX"}]},
"layer":[
{"mark":{"type":"rect","fill":"#fff","stroke":"#8c8c8c","strokeWidth":1.5},"encoding":{"y":{"field":"k","type":"nominal","scale":{"type":"band","paddingInner":0.04,"paddingOuter":0},"axis":null}}},
{"mark":{"type":"rule","color":"#b0b0b0","strokeWidth":2,"yOffset":14},"encoding":{"y":{"field":"k","type":"nominal","bandPosition":0,"scale":{"type":"band"},"axis":null}}},
{"mark":{"type":"text","align":"left","baseline":"top","dx":3,"yOffset":3,"fontSize":9.5,"limit":141},"encoding":{"x":{"value":0},"y":{"field":"k","type":"nominal","bandPosition":0,"scale":{"type":"band"},"axis":null},"text":{"field":"label"},"color":{"field":"k","type":"nominal","scale":{"domain":["a","b","c"],"range":["#3d9bd1","#ff3333","#f4a6a6"]},"legend":null}}},
{"mark":{"type":"text","align":"right","baseline":"top","dx":-4,"yOffset":2,"fontSize":7,"fontWeight":"bold","color":"#333"},"encoding":{"x":{"value":"width"},"y":{"field":"k","type":"nominal","bandPosition":0,"scale":{"type":"band"},"axis":null},"text":{"field":"tag"}}},
{"mark":{"type":"text","align":"right","baseline":"middle","dx":-19,"font":"Liberation Mono","color":"#333"},"encoding":{"x":{"value":"width"},"y":{"field":"k","type":"nominal","bandPosition":0.6,"scale":{"type":"band"},"axis":null},"text":{"field":"value"},"size":{"field":"k","type":"ordinal","scale":{"domain":["a","b","c"],"range":[19,19,24]},"legend":null}}}
]},
{"width":65,"height":1,"view":{"stroke":null},"data":{"values":[]},"mark":"point"},
{"width":104,"height":104,"view":{"stroke":null},"title":{"text":"Orbit graph","dx":-14},
"layer":[
{"data":{"values":[{"r":50},{"r":75},{"r":100}]},"mark":{"type":"point","shape":"circle","filled":false,"color":"#333","strokeWidth":1,"opacity":1},"encoding":{"x":{"datum":0,"type":"quantitative","scale":{"domain":[-104,104],"nice":false,"zero":false},"axis":{"title":"X axis ()","titleColor":"#aaa","values":[-100,-50,0,50,100],"labelOverlap":false,"labelPadding":3,"titlePadding":1,"labelFontSize":{"condition":{"test":"abs(datum.value)==100","value":10},"value":8},"labelColor":{"condition":{"test":"abs(datum.value)==100","value":"#222"},"value":"#888"}}},"y":{"datum":0,"type":"quantitative","scale":{"domain":[-104,104],"nice":false,"zero":false},"axis":null},"size":{"field":"r","type":"quantitative","scale":{"type":"pow","exponent":2,"domain":[0,104],"range":[0,10816]},"legend":null}}},
{"data":{"values":[{}]},"mark":{"type":"rule","color":"#222","strokeDash":[4,3]},"encoding":{"x":{"datum":0,"type":"quantitative","axis":{"labelOverlap":false}}}},
{"data":{"values":[{}]},"mark":{"type":"rule","color":"#222","strokeDash":[4,3]},"encoding":{"y":{"datum":0,"type":"quantitative","axis":null}}},
{"data":{"name":"orb3"},"mark":{"type":"line","color":"#ff0000","strokeWidth":2},"encoding":{"x":{"field":"x","type":"quantitative","axis":{"labelOverlap":false}},"y":{"field":"y","type":"quantitative","axis":{"orient":"left","title":"none ()","titleColor":"#333","values":[-100,-50,0,50,100],"labelOverlap":false,"labelAngle":-90,"labelBaseline":"bottom","labelAlign":{"condition":[{"test":"datum.value==-100","value":"left"},{"test":"datum.value==100","value":"right"}],"value":"center"},"labelFontSize":{"condition":{"test":"abs(datum.value)==100","value":10},"value":8},"labelColor":{"condition":{"test":"abs(datum.value)==100","value":"#222"},"value":"#888"},"labelPadding":4,"titlePadding":2}},"order":{"field":"i","type":"quantitative"}}},
{"data":{"values":[{}]},"mark":{"type":"square","color":"#1a7fc0","size":80,"opacity":1},"encoding":{"x":{"datum":-100,"type":"quantitative","axis":{"labelOverlap":false}},"y":{"datum":0,"type":"quantitative","axis":null}}},
{"data":{"values":[{}]},"mark":{"type":"square","color":"#ff0000","size":80,"opacity":1},"encoding":{"x":{"datum":0,"type":"quantitative","axis":{"labelOverlap":false}},"y":{"datum":95,"type":"quantitative","axis":{"orient":"right","title":"TLy osovina(um)/TLx osovina(um)","labels":false,"titleAngle":270,"titleAlign":"left","titleY":122,"titleLimit":118,"titleColor":"#222","titlePadding":6}}}}
],
"resolve":{"axis":{"y":"independent"}}},
{"width":97,"height":1,"view":{"stroke":null},"data":{"values":[]},"mark":"point"},
{"width":309,"height":104,"title":{"text":"FFT","dx":-27},"data":{"name":"fft3"},
"layer":[
{"transform":[{"filter":"datum.s=='y'"}],"mark":{"type":"line","color":"#ff3030","strokeWidth":1.3,"interpolate":"monotone"},
"encoding":{"x":{"field":"f","type":"quantitative","scale":{"domain":[0,160],"nice":false,"zero":false},"axis":{"title":"f (Hz)","values":[0,50,100,150,160],"grid":true,"labelFlush":true,"labelPadding":3,"titlePadding":1,"labelExpr":"datum.value==150?'':replace(format(datum.value,'.2f'),'.',',')","labelFontSize":{"condition":{"test":"datum.value==0||datum.value==160","value":10.5},"value":9},"labelFontWeight":{"condition":{"test":"datum.value==0||datum.value==160","value":"bold"},"value":"normal"},"labelColor":{"condition":{"test":"datum.value==0||datum.value==160","value":"#222"},"value":"#777"}}},
"y":{"field":"v","type":"quantitative","scale":{"domain":[0,100],"nice":false},"axis":{"orient":"left","title":"TLy osovina (um rms)","titleColor":"#ff4545","titleFontSize":9.5,"offset":26,"values":[0,20,40,60,80,100],"grid":false,"labelExpr":"datum.value==20||datum.value==80?'':replace(format(datum.value,'.1f'),'.',',')","labelAngle":-90,"labelBaseline":"bottom","labelAlign":{"condition":[{"test":"datum.value==0","value":"left"},{"test":"datum.value==100","value":"right"}],"value":"center"},"labelFontSize":{"condition":{"test":"datum.value==0||datum.value==100","value":10},"value":8.5},"labelColor":{"condition":{"test":"datum.value==0||datum.value==100","value":"#222"},"value":"#888"},"labelPadding":3,"titlePadding":2}}}},
{"transform":[{"filter":"datum.s=='x'"}],"mark":{"type":"line","color":"#3d9bd1","strokeWidth":1.3,"interpolate":"monotone"},
"encoding":{"x":{"field":"f","type":"quantitative"},"y":{"field":"v","type":"quantitative","axis":{"orient":"left","title":"TLx osovina (um rms)","titleColor":"#3d9bd1","titleFontSize":9.5,"values":[0,20,40,60,80,100],"grid":true,"labelExpr":"datum.value==20||datum.value==80?'':replace(format(datum.value,'.1f'),'.',',')","labelAngle":-90,"labelBaseline":"bottom","labelAlign":{"condition":[{"test":"datum.value==0","value":"left"},{"test":"datum.value==100","value":"right"}],"value":"center"},"labelFontSize":{"condition":{"test":"datum.value==0||datum.value==100","value":10},"value":8.5},"labelColor":{"condition":{"test":"datum.value==0||datum.value==100","value":"#222"},"value":"#888"},"labelPadding":3,"titlePadding":2}}}},
{"data":{"values":[{}]},"mark":{"type":"rule","color":"#1c3a5e","strokeWidth":1.5},"encoding":{"y":{"datum":0,"type":"quantitative","axis":{"orient":"right","title":"f (Hz)","labels":false,"titleAngle":90,"titleY":117,"titleColor":"#222","titlePadding":4}}}}
],
"resolve":{"axis":{"y":"independent"}}}
],
"columns":7,"bounds":"flush","spacing":{"row":21,"column":0}
},
{
"hconcat":[
{"width":28,"height":1,"view":{"stroke":null},"data":{"values":[]},"mark":"point"},
{"width":278,"height":105,"title":{"text":"Recorder","dx":-42,"offset":-1},"data":{"name":"rec4"},
"layer":[
{"transform":[{"filter":"datum.s=='broj'"}],"mark":{"type":"line","color":"#ffa64d","strokeWidth":2},
"encoding":{"x":{"field":"t","type":"quantitative","scale":{"domain":[0,3258.423],"nice":false,"zero":false},"axis":{"title":"t (s)","values":[0,600,1200,1800,2400,3000,3258.423],"grid":true,"labelFlush":true,"labelPadding":3,"titlePadding":1,"labelFontSize":{"condition":{"test":"datum.value==0||datum.value>3200","value":10.5},"value":9},"labelFontWeight":{"condition":{"test":"datum.value==0||datum.value>3200","value":"bold"},"value":"normal"},"labelColor":{"condition":{"test":"datum.value==0||datum.value>3200","value":"#222"},"value":"#666"},"labelExpr":"datum.value==0?'13:23:07,000':datum.value==1200?'13:43:07,000':datum.value==1800?'13:53:07,000':datum.value==2400?'14:03:07':datum.value>3200?'14:17:25,423':''"}},
"y":{"field":"v","type":"quantitative","scale":{"domain":[0,800],"nice":false},"axis":{"orient":"left","title":"Broj okretaja (1/min)","titleColor":"#ff9a3c","titleFontSize":9.5,"values":[0,160,320,480,640,800],"grid":true,"labelExpr":"datum.value==0||datum.value==800?replace(format(datum.value,'.1f'),'.',','):''","labelAngle":-90,"labelBaseline":"bottom","labelAlign":{"condition":{"test":"datum.value==0","value":"left"},"value":"right"},"labelPadding":3,"titlePadding":2}}}},
{"transform":[{"filter":"datum.s=='u'"}],"mark":{"type":"line","color":"#dda0f0","strokeWidth":2},
"encoding":{"x":{"field":"t","type":"quantitative"},"y":{"field":"v","type":"quantitative","scale":{"domain":[0,12000],"nice":false},"axis":{"orient":"left","title":"U (V)","titleColor":"#cc77ee","titleFontSize":9.5,"offset":27,"values":[0,4000,8000,12000],"labelExpr":"replace(format(datum.value,'.1f'),'.',',')","labelAngle":-90,"labelBaseline":"bottom","labelAlign":{"condition":[{"test":"datum.value==0","value":"left"},{"test":"datum.value==12000","value":"right"}],"value":"center"},"labelFontSize":{"condition":{"test":"datum.value==0||datum.value==12000","value":10},"value":8},"labelColor":{"condition":{"test":"datum.value==0||datum.value==12000","value":"#222"},"value":"#888"},"labelPadding":3,"titlePadding":2}}}},
{"transform":[{"filter":"datum.s=='p'"}],"mark":{"type":"line","color":"#9a3cf0","strokeWidth":1.5},
"encoding":{"x":{"field":"t","type":"quantitative"},"y":{"field":"v","type":"quantitative","scale":{"domain":[0,100],"nice":false},"axis":{"orient":"left","title":"P (MW)","titleColor":"#9933ff","titleFontSize":9.5,"offset":55,"values":[0,40,60,100],"labelExpr":"replace(format(datum.value,'.1f'),'.',',')","labelAngle":-90,"labelBaseline":"bottom","labelAlign":{"condition":[{"test":"datum.value==0","value":"left"},{"test":"datum.value==100","value":"right"}],"value":"center"},"labelFontSize":{"condition":{"test":"datum.value==0||datum.value==100","value":10},"value":8},"labelColor":{"condition":{"test":"datum.value==0||datum.value==100","value":"#222"},"value":"#888"},"labelPadding":3,"titlePadding":2}}}},
{"data":{"values":[{"t":0},{"t":3258.423}]},"mark":{"type":"rule","color":"#ff5a5a","strokeWidth":2},"encoding":{"x":{"field":"t","type":"quantitative"}}},
{"data":{"values":[{"t":1391.672}]},"mark":{"type":"rule","color":"#000","strokeWidth":1.5},"encoding":{"x":{"field":"t","type":"quantitative"}}},
{"data":{"values":[{"t":1391.672}]},"mark":{"type":"point","shape":"triangle-down","filled":true,"color":"#000","size":70,"opacity":1,"yOffset":4},"encoding":{"x":{"field":"t","type":"quantitative"},"y":{"datum":1,"type":"quantitative","scale":{"domain":[0,1]},"axis":{"orient":"right","title":"t (s)","labels":false,"titleAngle":90,"titleY":120,"titleColor":"#222","titlePadding":4}}}}
],
"resolve":{"scale":{"y":"independent"},"axis":{"y":"independent"}}},
{"width":45,"height":1,"view":{"stroke":null},"data":{"values":[]},"mark":"point"},
{"width":519,"height":129,"view":{"stroke":null},
"layer":[
{"data":{"values":[{"k":"broj","r":"box","label":"Broj okretaja (1/min)","tag":"AVE","value":"500.0"},{"k":"u","r":"box","label":"U (V)","tag":"RMS","value":"11012"},{"k":"p","r":"box","label":"P (MW)","tag":"RMS","value":"78"}]},
"layer":[
{"mark":{"type":"rect","fill":"#fff","stroke":"#8c8c8c","strokeWidth":1.5},"encoding":{"x":{"field":"k","type":"nominal","scale":{"type":"band","domain":["broj","u","p"],"paddingInner":0,"paddingOuter":0},"axis":null},"y":{"field":"r","type":"nominal","scale":{"type":"band","range":[0,77]},"axis":null}}},
{"mark":{"type":"tick","orient":"horizontal","color":"#b0b0b0","thickness":2,"size":166,"yOffset":13},"encoding":{"x":{"field":"k","type":"nominal","bandPosition":0.5,"scale":{"type":"band","domain":["broj","u","p"],"paddingInner":0,"paddingOuter":0},"axis":null},"y":{"field":"r","type":"nominal","bandPosition":0,"scale":{"type":"band","range":[0,77]},"axis":null}}},
{"mark":{"type":"text","align":"left","baseline":"top","dx":3,"yOffset":3,"fontSize":10},"encoding":{"x":{"field":"k","type":"nominal","bandPosition":0,"scale":{"type":"band","domain":["broj","u","p"],"paddingInner":0,"paddingOuter":0},"axis":null},"y":{"field":"r","type":"nominal","bandPosition":0,"scale":{"type":"band","range":[0,77]},"axis":null},"text":{"field":"label"},"color":{"field":"k","type":"nominal","scale":{"domain":["broj","u","p"],"range":["#ff9a3c","#cc77ee","#9933ff"]},"legend":null}}},
{"mark":{"type":"text","align":"right","baseline":"top","dx":-4,"yOffset":2,"fontSize":7,"fontWeight":"bold","color":"#333"},"encoding":{"x":{"field":"k","type":"nominal","bandPosition":1,"scale":{"type":"band","domain":["broj","u","p"],"paddingInner":0,"paddingOuter":0},"axis":null},"y":{"field":"r","type":"nominal","bandPosition":0,"scale":{"type":"band","range":[0,77]},"axis":null},"text":{"field":"tag"}}},
{"mark":{"type":"text","align":"right","baseline":"middle","dx":-26,"fontSize":34,"font":"Liberation Mono","color":"#333"},"encoding":{"x":{"field":"k","type":"nominal","bandPosition":1,"scale":{"type":"band","domain":["broj","u","p"],"paddingInner":0,"paddingOuter":0},"axis":null},"y":{"field":"r","type":"nominal","bandPosition":0.61,"scale":{"type":"band","range":[0,77]},"axis":null},"text":{"field":"value"}}}
]},
{"data":{"values":[{"k":"time","r":"box","label":"Current time","value":"13:46:18.672"},{"k":"date","r":"box","label":"Current date","value":"12.5.2020."}]},
"layer":[
{"mark":{"type":"rect","fill":"#fff","stroke":"#8c8c8c","strokeWidth":1.5},"encoding":{"x":{"field":"k","type":"nominal","scale":{"type":"band","domain":["time","date"],"range":[2,420],"paddingInner":0,"paddingOuter":0},"axis":null},"y":{"field":"r","type":"nominal","scale":{"type":"band","range":[94,136]},"axis":null}}},
{"mark":{"type":"tick","orient":"horizontal","color":"#b0b0b0","thickness":2,"size":202,"yOffset":13},"encoding":{"x":{"field":"k","type":"nominal","bandPosition":0.5,"scale":{"type":"band","domain":["time","date"],"range":[2,420],"paddingInner":0,"paddingOuter":0},"axis":null},"y":{"field":"r","type":"nominal","bandPosition":0,"scale":{"type":"band","range":[94,136]},"axis":null}}},
{"mark":{"type":"text","align":"left","baseline":"top","dx":3,"yOffset":2,"fontSize":9,"color":"#bbbbbb"},"encoding":{"x":{"field":"k","type":"nominal","bandPosition":0,"scale":{"type":"band","domain":["time","date"],"range":[2,420],"paddingInner":0,"paddingOuter":0},"axis":null},"y":{"field":"r","type":"nominal","bandPosition":0,"scale":{"type":"band","range":[94,136]},"axis":null},"text":{"field":"label"}}},
{"mark":{"type":"text","align":"right","baseline":"middle","dx":-5,"fontSize":16,"font":"Liberation Mono","color":"#333"},"encoding":{"x":{"field":"k","type":"nominal","bandPosition":1,"scale":{"type":"band","domain":["time","date"],"range":[2,420],"paddingInner":0,"paddingOuter":0},"axis":null},"y":{"field":"r","type":"nominal","bandPosition":0.6,"scale":{"type":"band","range":[94,136]},"axis":null},"text":{"field":"value"}}}
]}
],
"resolve":{"scale":{"x":"independent","y":"independent","color":"independent"}}},
{"width":73,"height":1,"view":{"stroke":null},"data":{"values":[]},"mark":"point"},
{"width":152,"height":60,"view":{"stroke":null},
"data":{"values":[{"line":1,"text":"HE ORLOVAC G3"},{"line":2,"text":"Tv.br.: 13 209"},{"line":3,"text":"Type: S 4107-12"}]},
"mark":{"type":"text","align":"right","baseline":"middle","fontSize":18,"fontWeight":"bold","color":"#22e622","yOffset":7},
"encoding":{"x":{"value":"width"},"y":{"field":"line","type":"ordinal","axis":null},"text":{"field":"text"}}}
],
"bounds":"flush","spacing":0
}
]
}
